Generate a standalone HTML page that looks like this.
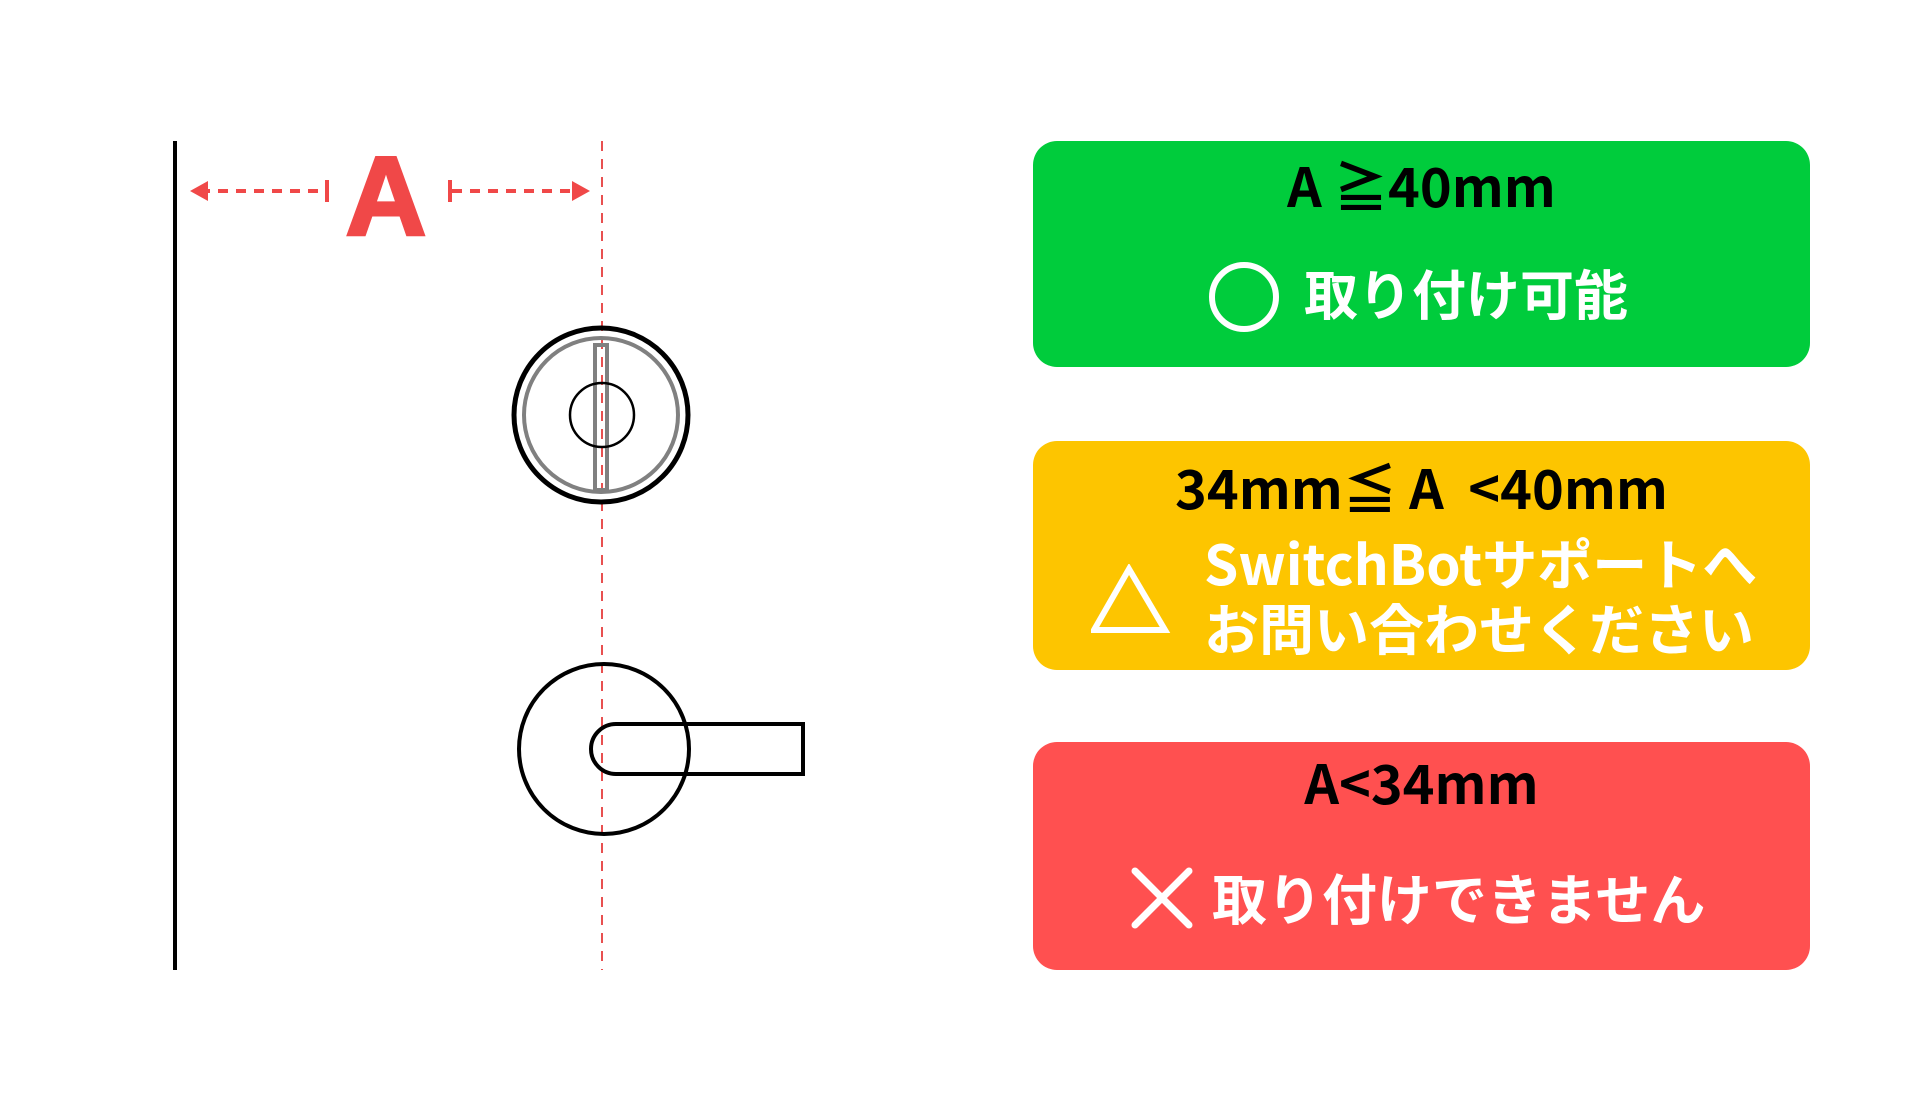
<!DOCTYPE html>
<html><head><meta charset="utf-8"><style>
html,body{margin:0;padding:0;background:#fff;}
body{width:1920px;height:1110px;position:relative;overflow:hidden;font-family:"Liberation Sans","Noto Sans CJK JP",sans-serif;}
.box{position:absolute;left:1033px;width:777px;border-radius:24px;}
.t{position:absolute;left:0;width:100%;text-align:center;font-family:"Noto Sans CJK JP",sans-serif;font-weight:700;white-space:nowrap;line-height:1;}
.w{color:#fff;font-weight:700;}
</style></head><body>
<svg width="1920" height="1110" style="position:absolute;left:0;top:0">
  <line x1="175" y1="141" x2="175" y2="970" stroke="#000" stroke-width="4"/>
  <line x1="602" y1="141" x2="602" y2="970" stroke="#e85050" stroke-width="2" stroke-dasharray="10,8"/>
  <g stroke="#f04848" stroke-width="4" fill="#f04848">
    <line x1="200" y1="191" x2="326" y2="191" stroke-dasharray="10,8"/>
    <line x1="327" y1="180" x2="327" y2="202"/>
    <polygon points="190,191 208,181 208,201" stroke="none"/>
    <line x1="450" y1="180" x2="450" y2="202"/>
    <line x1="452" y1="191" x2="578" y2="191" stroke-dasharray="10,8"/>
    <polygon points="590,191 572,181 572,201" stroke="none"/>
  </g>
  <text x="386" y="235" text-anchor="middle" font-family="Liberation Sans,sans-serif" font-weight="700" font-size="112" fill="#f04848" stroke="#f04848" stroke-width="3">A</text>
  <circle cx="601" cy="415" r="87" fill="none" stroke="#000" stroke-width="5"/>
  <circle cx="601" cy="415" r="77" fill="none" stroke="#808080" stroke-width="4"/>
  <rect x="595" y="345" width="12" height="145" fill="none" stroke="#808080" stroke-width="4"/>
  <circle cx="602" cy="415" r="32" fill="none" stroke="#000" stroke-width="2.5"/>
  <circle cx="604" cy="749" r="85" fill="none" stroke="#000" stroke-width="4"/>
  <path d="M616,724 H803 V774 H616 A25,25 0 0 1 616,724 Z" fill="none" stroke="#000" stroke-width="4"/>
</svg>
<div class="box" style="top:141px;height:226px;background:#00cc3c;">
  <div class="t" style="top:16px;font-size:54px;color:#000;">A ≧40mm</div>
  <div class="t w" style="top:124px;left:271px;width:auto;font-size:54px;">取り付け可能</div>
  <svg style="position:absolute;left:175px;top:121px" width="80" height="80"><circle cx="36" cy="35" r="32" fill="none" stroke="#fff" stroke-width="6"/></svg>
</div>
<div class="box" style="top:441px;height:229px;background:#fdc500;">
  <div class="t" style="top:18px;font-size:54px;color:#000;">34mm≦ A &nbsp;&lt;40mm</div>
  <div class="t w" style="top:88px;left:171px;width:auto;text-align:left;font-size:55px;line-height:65px;">SwitchBotサポートへ<br>お問い合わせください</div>
  <svg style="position:absolute;left:58px;top:123px" width="80" height="72"><polygon points="38,5 74,66 3,66" fill="none" stroke="#fff" stroke-width="6"/></svg>
</div>
<div class="box" style="top:742px;height:228px;background:#ff5050;">
  <div class="t" style="top:12px;font-size:54px;color:#000;">A&lt;34mm</div>
  <div class="t w" style="top:127px;left:179px;width:auto;text-align:left;font-size:55px;">取り付けできません</div>
  <svg style="position:absolute;left:98px;top:125px" width="64" height="64"><path d="M4,4 L58,58 M58,4 L4,58" stroke="#fff" stroke-width="7" stroke-linecap="round"/></svg>
</div>
</body></html>
